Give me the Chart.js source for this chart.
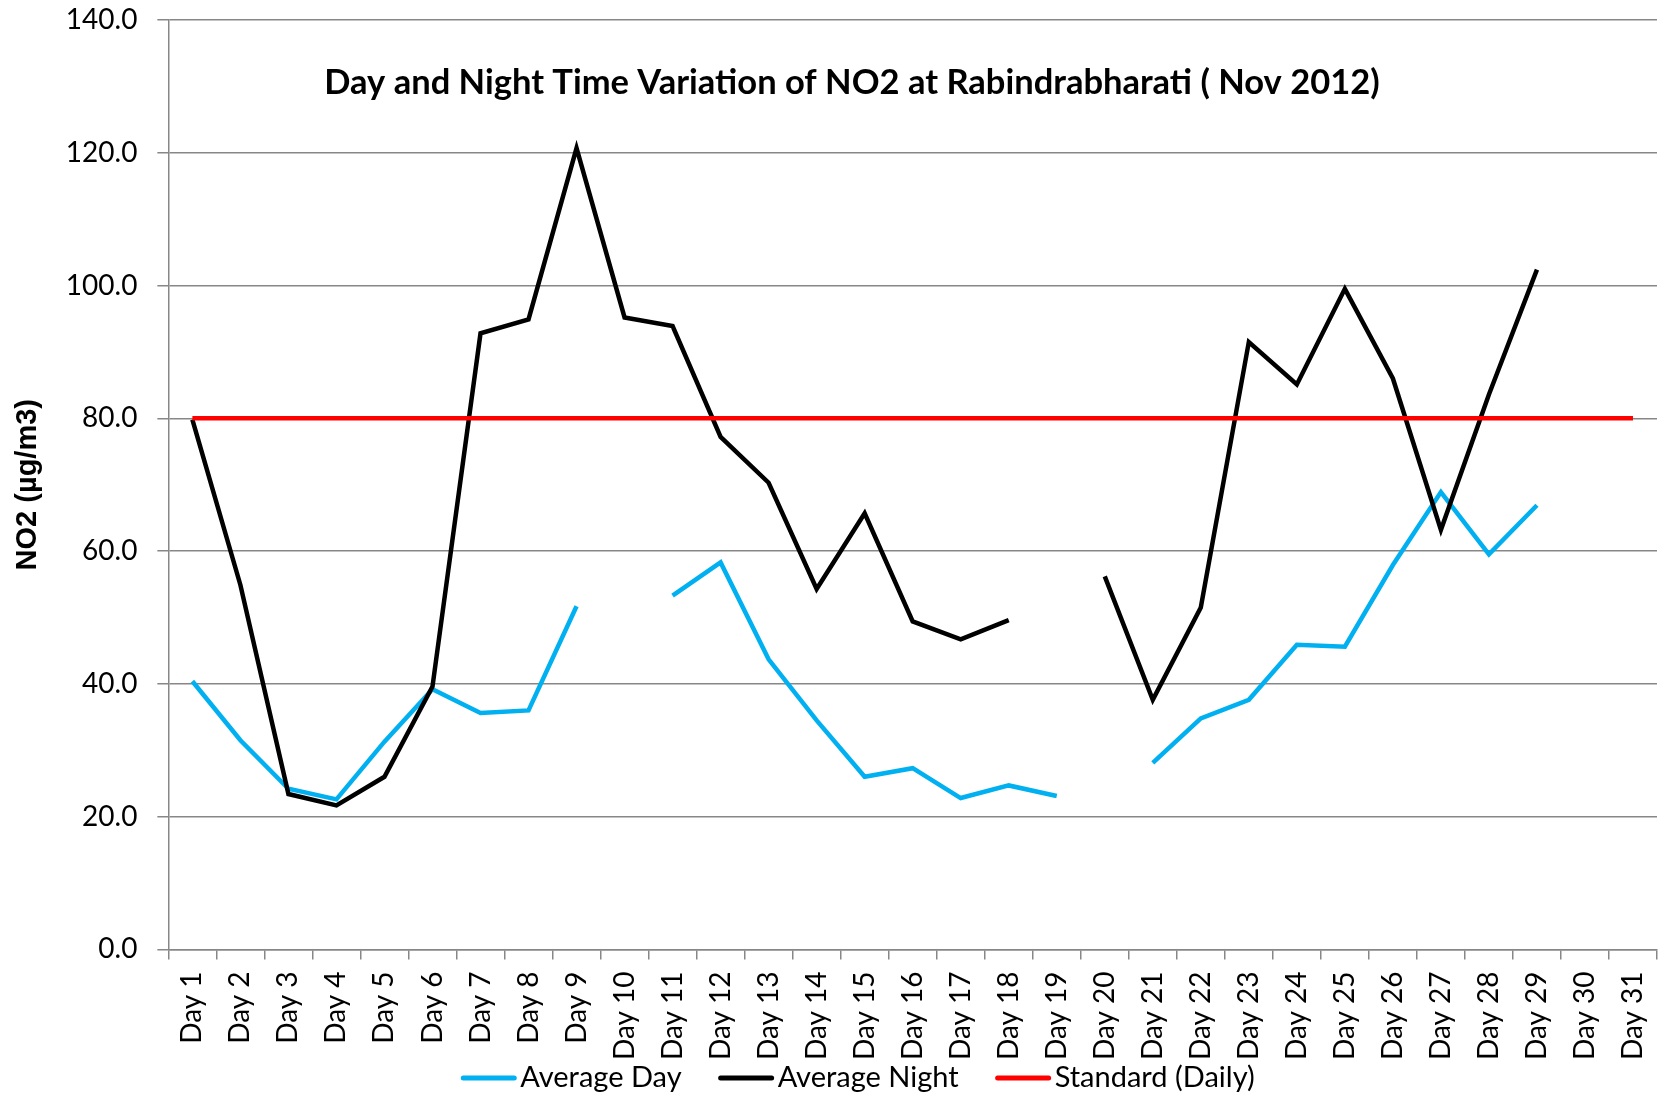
<!DOCTYPE html>
<html>
<head>
<meta charset="utf-8">
<title>NO2 Day and Night Variation</title>
<script src="https://cdn.jsdelivr.net/npm/chart.js@4"></script>
<style>
  html, body { margin: 0; padding: 0; background: #fff; }
  #wrap { width: 1669px; height: 1104px; }
</style>
</head>
<body>
<div id="wrap"><canvas id="no2-chart"></canvas></div>
<script>
// Chart data
const days = [];
for (let d = 1; d <= 31; d++) days.push("Day " + d);

const avgDay = [40.4, 31.5, 24.2, 22.6, 31.3, 39.2, 35.6, 36.0, 51.7, null,
  53.3, 58.3, 43.7, 34.5, 26.0, 27.3, 22.8, 24.7, 23.1, null,
  28.1, 34.8, 37.6, 45.9, 45.6, 57.9, 68.9, 59.5, 66.9, null, null];

const avgNight = [79.8, 54.9, 23.4, 21.7, 26.0, 39.6, 92.8, 94.9, 120.7, 95.2,
  93.9, 77.2, 70.3, 54.3, 65.7, 49.4, 46.7, 49.6, null, 56.2,
  37.6, 51.5, 91.5, 85.1, 99.5, 86.0, 63.2, 83.6, 102.4, null, null];

const standard = [80, 80, 80, 80, 80, 80, 80, 80, 80, 80,
  80, 80, 80, 80, 80, 80, 80, 80, 80, 80,
  80, 80, 80, 80, 80, 80, 80, 80, 80, 80, 80];

const yTicks = [0, 20, 40, 60, 80, 100, 120, 140];

const chartTitle = "Day and Night Time Variation of NO2 at Rabindrabharati ( Nov 2012)";
const gridColor = "#878787";
const baseFont = "Lato";

// Title sits inside the plot area, like the original
const insideTitle = {
  id: "insideTitle",
  afterDraw(chart) {
    const ctx = chart.ctx;
    ctx.save();
    ctx.font = "bold 34.5px " + baseFont;
    ctx.fillStyle = "#000";
    ctx.textAlign = "center";
    ctx.textBaseline = "alphabetic";
    ctx.fillText(chartTitle, 852, 94);
    ctx.restore();
  }
};

// Excel-style legend: short line, small gap, label, in dataset order
const bottomLegend = {
  id: "bottomLegend",
  afterDraw(chart) {
    const ctx = chart.ctx;
    const lineLen = 55, textGap = 4, itemGap = 37, y = 1078;
    ctx.save();
    ctx.font = "29px " + baseFont;
    const items = chart.data.datasets.map(ds => ({
      text: ds.label,
      color: ds.borderColor,
      w: lineLen + textGap + ctx.measureText(ds.label).width
    }));
    const total = items.reduce((s, it) => s + it.w, 0) + itemGap * (items.length - 1);
    let x = 858 - total / 2;
    items.forEach(it => {
      ctx.strokeStyle = it.color;
      ctx.lineWidth = 5;
      ctx.lineCap = "round";
      ctx.beginPath();
      ctx.moveTo(x + 2, y);
      ctx.lineTo(x + lineLen - 2, y);
      ctx.stroke();
      ctx.fillStyle = "#000";
      ctx.textAlign = "left";
      ctx.textBaseline = "middle";
      ctx.fillText(it.text, x + lineLen + textGap, y);
      x += it.w + itemGap;
    });
    ctx.restore();
  }
};

const ctx = document.getElementById("no2-chart").getContext("2d");
new Chart(ctx, {
  type: "line",
  data: {
    labels: days,
    datasets: [
      {
        label: "Average Day",
        data: avgDay,
        borderColor: "#00B0F0",
        backgroundColor: "#00B0F0",
        borderWidth: 4.5,
        order: 3
      },
      {
        label: "Average Night",
        data: avgNight,
        borderColor: "#000000",
        backgroundColor: "#000000",
        borderWidth: 4.5,
        order: 2
      },
      {
        label: "Standard (Daily)",
        data: standard,
        borderColor: "#FF0000",
        backgroundColor: "#FF0000",
        borderWidth: 4.5,
        order: 1
      }
    ]
  },
  options: {
    responsive: true,
    maintainAspectRatio: false,
    animation: false,
    spanGaps: false,
    elements: {
      point: { radius: 0, hoverRadius: 0 },
      line: { tension: 0, borderCapStyle: "butt", borderJoinStyle: "miter" }
    },
    layout: {
      padding: { top: 0, right: 0, bottom: 32, left: 11 }
    },
    scales: {
      x: {
        offset: true,
        afterFit(scale) {
          scale.paddingRight = 12;
        },
        grid: {
          display: true,
          drawOnChartArea: false,
          offset: true,
          color: gridColor,
          lineWidth: 1.5,
          tickLength: 10
        },
        border: { color: gridColor, width: 1.5 },
        ticks: {
          color: "#000",
          autoSkip: false,
          minRotation: 90,
          maxRotation: 90,
          padding: 12,
          font: { family: baseFont, size: 28 }
        }
      },
      y: {
        min: 0,
        max: 140,
        afterBuildTicks(scale) {
          scale.ticks = yTicks.map(v => ({ value: v }));
        },
        afterFit(scale) {
          scale.paddingTop = 20;
        },
        grid: {
          color: gridColor,
          lineWidth: 1.5,
          tickLength: 11
        },
        border: { color: gridColor, width: 1.5 },
        ticks: {
          color: "#000",
          padding: 20,
          font: { family: baseFont, size: 28 },
          callback: v => Number(v).toFixed(1)
        },
        title: {
          display: true,
          text: "NO2 (µg/m3)",
          color: "#000",
          padding: { top: 0, bottom: 0 },
          font: { family: "Liberation Sans", size: 29, weight: "bold" }
        }
      }
    },
    plugins: {
      title: { display: false },
      tooltip: { enabled: false },
      legend: { display: false }
    }
  },
  plugins: [insideTitle, bottomLegend]
});
</script>
</body>
</html>
